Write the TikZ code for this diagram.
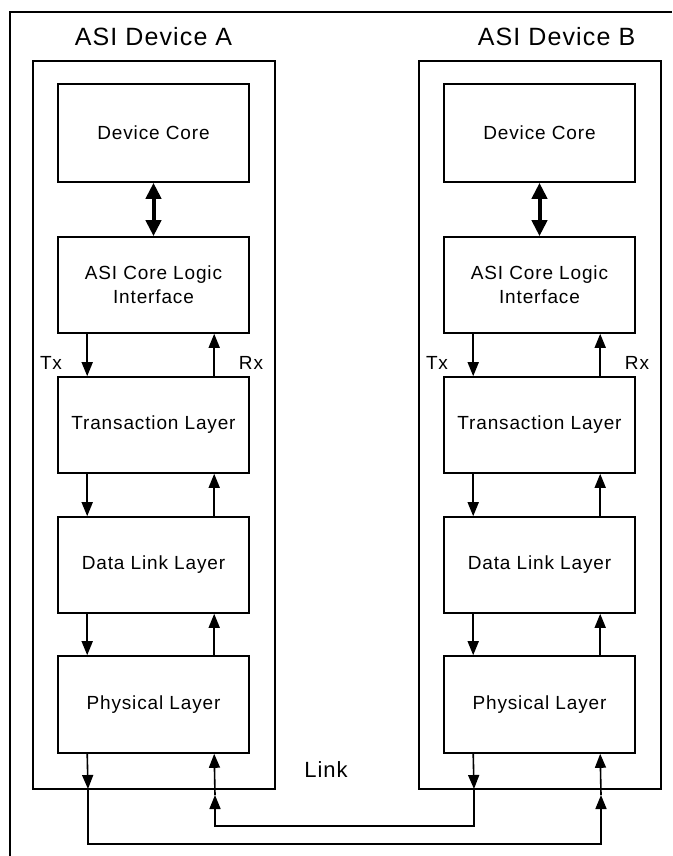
\documentclass[tikz,border=0pt]{standalone}
\usepackage{fontspec}
\setmainfont{Liberation Sans}[LetterSpace=4.5]
\usetikzlibrary{arrows.meta,calc}
\begin{document}
\begin{tikzpicture}[x=1pt,y=-1pt,
  box/.style={draw, line width=1.6pt, minimum width=191pt, minimum height=96pt, align=center, font=\fontsize{19}{24}\selectfont, inner sep=0pt},
  dev/.style={draw, line width=1.6pt, inner sep=0pt, minimum width=242pt, minimum height=728pt},
  arr/.style={line width=1.6pt, -{Triangle[length=14pt,width=11pt]}},
  dbl/.style={line width=4pt, {Triangle[length=16pt,width=15pt]}-{Triangle[length=16pt,width=15pt]}},
  lab/.style={font=\fontsize{19}{22}\selectfont, inner sep=0pt},
  title/.style={font=\fontsize{25}{30}\selectfont, inner sep=0pt}]
\useasboundingbox (0,0) rectangle (672,856);
% outer frame
\draw[line width=1.6pt] (10,856) -- (10,12) -- (672,12);
% device frames
\node[dev] (DevA) at (154,425) {};
\node[dev] (DevB) at (540,425) {};
\node[title] (tA) at (153.5,37) {ASI Device A};
\node[title] (tB) at (556.5,37) {ASI Device B};
\foreach \dv/\dx in {A/0,B/386}{
  \node[box, minimum height=98pt] (\dv1) at (153.5+\dx,133) {Device Core};
  \node[box] (\dv2) at (153.5+\dx,285) {ASI Core Logic\\Interface};
  \node[box] (\dv3) at (153.5+\dx,425) {Transaction Layer};
  \node[box] (\dv4) at (153.5+\dx,565) {Data Link Layer};
  \node[box, minimum height=97pt] (\dv5) at (153.5+\dx,704.5) {Physical Layer};
  \draw[dbl] (\dv1.south) -- (\dv2.north);
  \foreach \i/\j in {2/3,3/4,4/5}{
    \draw[arr] ([xshift=30pt]\dv\i.south west) -- ([xshift=30pt]\dv\j.north west);
    \draw[arr] ([xshift=157pt]\dv\j.north west) -- ([xshift=157pt]\dv\i.south west);
  }
  \node[lab] (\dv tx) at (51+\dx,363) {Tx};
  \node[lab] (\dv rx) at (251+\dx,363) {Rx};
}
% link wiring
\coordinate (aTxEnd) at (88,789);
\coordinate (oA) at (88,844);
\coordinate (oB) at (601,844);
\coordinate (bRxLow) at (601,795);
\coordinate (bTxEnd) at (474,789);
\coordinate (iB) at (474,826);
\coordinate (iA) at (215,826);
\coordinate (aRxLow) at (215,795);
\draw[arr] ([xshift=30pt]A5.south west) -- (aTxEnd);
\draw[arr] (aTxEnd) -- (oA) -- (oB) -- (bRxLow);
\draw[arr] (bRxLow) -- ([xshift=157pt]B5.south west);
\draw[arr] ([xshift=30pt]B5.south west) -- (bTxEnd);
\draw[arr] (bTxEnd) -- (iB) -- (iA) -- (aRxLow);
\draw[arr] (aRxLow) -- ([xshift=157pt]A5.south west);
\node[font=\fontsize{22}{26}\selectfont, inner sep=0pt] (link) at (326,770) {Link};
\end{tikzpicture}
\end{document}
